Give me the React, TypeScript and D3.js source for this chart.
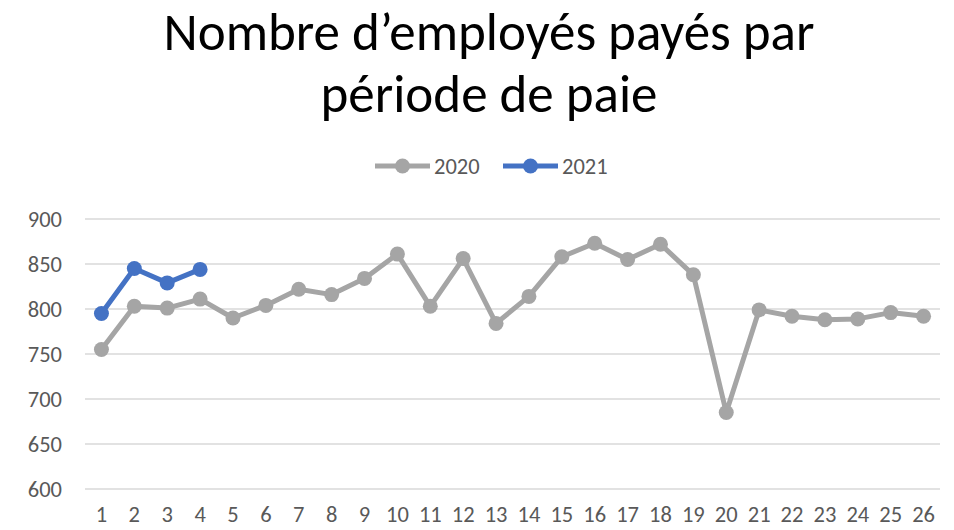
import React, { useEffect, useRef } from 'react';
import * as d3 from 'd3';

const periods = d3.range(1, 27).map(String);
const values2020 = [755, 803, 801, 811, 790, 804, 822, 816, 834, 861, 803, 856, 784, 814, 858, 873, 855, 872, 838, 685, 799, 792, 788, 789, 796, 792];
const values2021 = [795, 845, 829, 844];
const yTicks = [600, 650, 700, 750, 800, 850, 900];
const seriesNames = ['2020', '2021'];
const seriesColors = ['#a5a5a5', '#4472c4'];

const W = 954;
const H = 530;

export default function App() {
  const ref = useRef<SVGSVGElement>(null);

  useEffect(() => {
    const svg = d3.select(ref.current);
    svg.selectAll('*').remove();
    const font = 'Carlito, Calibri, Lato, sans-serif';

    const margin = { top: 219, right: 14, bottom: 41, left: 85 };
    const width = W - margin.left - margin.right;
    const height = H - margin.top - margin.bottom;

    // titre
    const title = svg.append('g').attr('font-family', font).attr('fill', '#000')
      .attr('text-anchor', 'middle').attr('font-size', 53);
    title.append('text').attr('x', 489).attr('y', 50).text('Nombre d’employés payés par');
    title.append('text').attr('x', 489).attr('y', 112).text('période de paie');

    const g = svg.append('g').attr('transform', 'translate(' + margin.left + ',' + margin.top + ')');

    const x = d3.scaleBand().domain(periods).range([0, width]);
    const y = d3.scaleLinear().domain([600, 900]).range([height, 0]);

    // grille
    g.selectAll('.grid').data(yTicks).enter().append('line')
      .attr('x1', 0).attr('x2', width)
      .attr('y1', d => y(d)).attr('y2', d => y(d))
      .attr('stroke', '#d9d9d9').attr('stroke-width', 1.5);

    const yAxis = g.append('g').call(d3.axisLeft(y).tickValues(yTicks).tickSize(0).tickPadding(23));
    yAxis.select('.domain').remove();
    yAxis.selectAll('text').attr('font-family', font).attr('font-size', 22.5).attr('fill', '#595959');

    const xAxis = g.append('g').attr('transform', 'translate(0,' + height + ')')
      .call(d3.axisBottom(x).tickSize(0).tickPadding(17));
    xAxis.select('.domain').remove();
    xAxis.selectAll('text').attr('font-family', font).attr('font-size', 22.5).attr('fill', '#595959');

    const cx = (d: string) => (x(d) as number) + x.bandwidth() / 2;
    const line = d3.line<number>().x((d, i) => cx(periods[i])).y(d => y(d));

    [values2020, values2021].forEach((vals, k) => {
      g.append('path').datum(vals).attr('d', line)
        .attr('fill', 'none').attr('stroke', seriesColors[k]).attr('stroke-width', 5)
        .attr('stroke-linejoin', 'round');
      g.selectAll('.pt' + k).data(vals).enter().append('circle')
        .attr('cx', (d, i) => cx(periods[i])).attr('cy', d => y(d))
        .attr('r', 7.5).attr('fill', seriesColors[k]);
    });

    // légende
    const legend = svg.append('g').attr('font-family', font).attr('font-size', 22.5).attr('fill', '#595959');
    const lx = [375, 503];
    seriesNames.forEach((name, k) => {
      const lg = legend.append('g').attr('transform', 'translate(' + lx[k] + ',166)');
      lg.append('line').attr('x1', 0).attr('x2', 55).attr('stroke', seriesColors[k]).attr('stroke-width', 5);
      lg.append('circle').attr('cx', 27.5).attr('r', 7.5).attr('fill', seriesColors[k]);
      lg.append('text').attr('x', 59).attr('y', 8).text(name);
    });
  }, []);

  return (
    <svg ref={ref} width={W} height={H} style={{ position: 'absolute', left: 0, top: 0, background: '#fff' }} />
  );
}
